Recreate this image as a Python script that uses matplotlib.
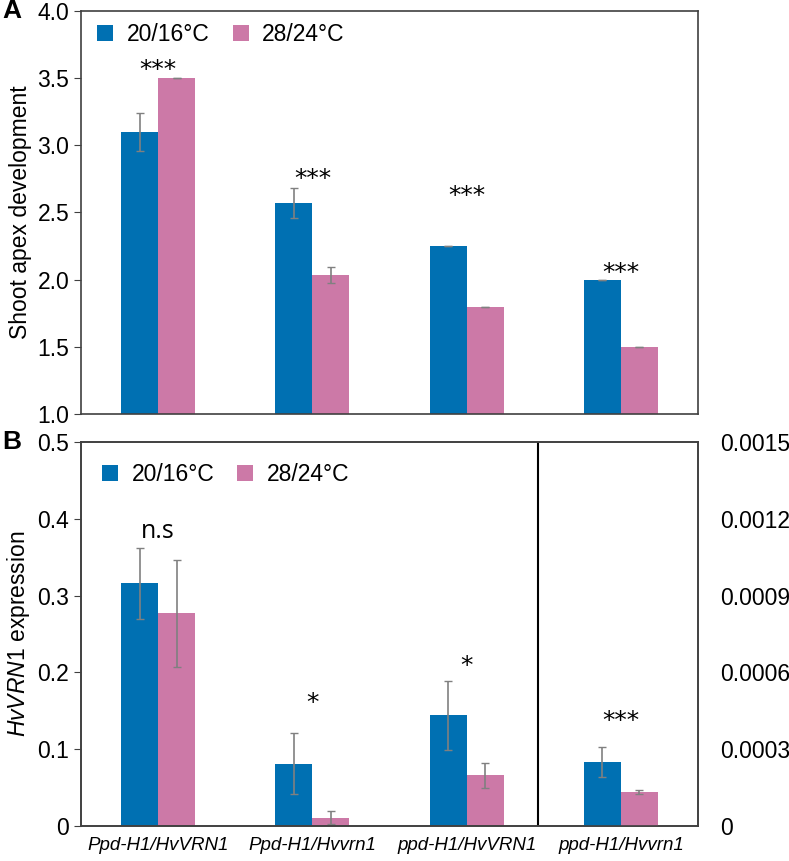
import numpy as np
import matplotlib
matplotlib.use("Agg")
import matplotlib.pyplot as plt
from matplotlib.ticker import FixedLocator, FuncFormatter

plt.rcParams['font.family'] = ['Liberation Sans', 'DejaVu Sans']
plt.rcParams['mathtext.fontset'] = 'custom'
plt.rcParams['mathtext.it'] = 'Liberation Sans:italic'
plt.rcParams['mathtext.rm'] = 'Liberation Sans'

# data
genotypes = ["Ppd-H1/HvVRN1", "Ppd-H1/Hvvrn1", "ppd-H1/HvVRN1", "ppd-H1/Hvvrn1"]
series = ["20/16°C", "28/24°C"]

apex_cool = [3.1, 2.57, 2.25, 2.0]
apex_cool_err = [0.14, 0.11, 0.0, 0.0]
apex_warm = [3.5, 2.035, 1.8, 1.5]
apex_warm_err = [0.0, 0.06, 0.0, 0.0]
apex_sig = ["***", "***", "***", "***"]

# first three genotypes on left axis, last one on right axis
vrn_cool = [0.316, 0.081, 0.144]
vrn_cool_err = [0.046, 0.040, 0.045]
vrn_warm = [0.277, 0.011, 0.066]
vrn_warm_err = [0.070, 0.009, 0.016]
vrn_cool_r = 0.00025
vrn_cool_r_err = 0.00006
vrn_warm_r = 0.000133
vrn_warm_r_err = 0.000008
vrn_sig = ["n.s", "*", "*", "***"]

blue = "#0070b2"
pink = "#cc79a7"
errc = "#808080"
spinec = "#404040"
w = 0.24
tick_fs = 16.5
star_font = ['DejaVu Sans']

fig = plt.figure(figsize=(7.89, 8.61), dpi=100)
axA = fig.add_axes([0.1027, 0.5192, 0.782, 0.468])
axB = fig.add_axes([0.1027, 0.0407, 0.782, 0.4459])

x = np.arange(len(genotypes))

# panel A
axA.bar(x - w / 2, apex_cool, w, color=blue, label=series[0])
axA.bar(x + w / 2, apex_warm, w, color=pink, label=series[1])
axA.errorbar(x - w / 2, apex_cool, yerr=apex_cool_err, fmt='none', ecolor=errc, capsize=3, elinewidth=1.2)
axA.errorbar(x + w / 2, apex_warm, yerr=apex_warm_err, fmt='none', ecolor=errc, capsize=3, elinewidth=1.2)
axA.set_ylim(1.0, 4.0)
axA.set_xlim(-0.5, 3.5)
axA.set_yticks(np.arange(1.0, 4.01, 0.5))
axA.yaxis.set_major_formatter(FuncFormatter(lambda v, p: "%.1f" % v))
axA.set_xticks([])
axA.set_ylabel("Shoot apex development", fontsize=16.5, labelpad=4)
sig_y_A = [3.56, 2.75, 2.62, 2.05]
for i in range(4):
    axA.text(x[i], sig_y_A[i], apex_sig[i], ha='center', va='center', fontsize=18, family=star_font)
axA.legend(loc='upper left', ncol=2, frameon=False, fontsize=16.5, handlelength=0.7,
           handleheight=0.7, handletextpad=0.6, columnspacing=1.0,
           bbox_to_anchor=(0.0, 1.01), borderaxespad=0.3)
axA.text(-0.128, 1.0, "A", transform=axA.transAxes, fontsize=19, fontweight='bold', va='center')

# panel B
xb = x[:3]
axB.bar(xb - w / 2, vrn_cool, w, color=blue, label=series[0])
axB.bar(xb + w / 2, vrn_warm, w, color=pink, label=series[1])
axB.errorbar(xb - w / 2, vrn_cool, yerr=vrn_cool_err, fmt='none', ecolor=errc, capsize=3, elinewidth=1.2)
axB.errorbar(xb + w / 2, vrn_warm, yerr=vrn_warm_err, fmt='none', ecolor=errc, capsize=3, elinewidth=1.2)
axB.set_ylim(0, 0.5)
axB.set_xlim(-0.5, 3.5)
axB.set_yticks(np.arange(0, 0.51, 0.1))
axB.yaxis.set_major_formatter(FuncFormatter(lambda v, p: "0" if v == 0 else "%.1f" % v))
axB.set_xticks(x)
axB.set_xticklabels(genotypes, fontsize=13.5, style='italic')
axB.tick_params(axis='x', length=0, pad=8)
axB.set_ylabel(r"$\it{HvVRN1}$ expression", fontsize=16.5, labelpad=4)
axB.axvline(2.46, color='black', lw=1.5)

axR = axB.twinx()
axR.bar(3 - w / 2, vrn_cool_r, w, color=blue)
axR.bar(3 + w / 2, vrn_warm_r, w, color=pink)
axR.errorbar(3 - w / 2, vrn_cool_r, yerr=vrn_cool_r_err, fmt='none', ecolor=errc, capsize=3, elinewidth=1.2)
axR.errorbar(3 + w / 2, vrn_warm_r, yerr=vrn_warm_r_err, fmt='none', ecolor=errc, capsize=3, elinewidth=1.2)
axR.set_ylim(0, 0.0015)
axR.yaxis.set_major_locator(FixedLocator([0, 0.0003, 0.0006, 0.0009, 0.0012, 0.0015]))
axR.yaxis.set_major_formatter(FuncFormatter(lambda v, p: "0" if v == 0 else "%.4f" % v))
axR.tick_params(axis='y', length=0, pad=16, labelsize=tick_fs)

sig_y_B = [0.383, 0.16, 0.208, 0.137]
for i in range(4):
    if vrn_sig[i] == "n.s":
        axB.text(x[i], sig_y_B[i], vrn_sig[i], ha='center', va='center', fontsize=18,
                 family=['Open Sans', 'DejaVu Sans'])
    else:
        axB.text(x[i], sig_y_B[i], vrn_sig[i], ha='center', va='center', fontsize=18, family=star_font)
axB.legend(loc='upper left', ncol=2, frameon=False, fontsize=16.5, handlelength=0.7,
           handleheight=0.7, handletextpad=0.6, columnspacing=1.0,
           bbox_to_anchor=(0.0, 1.0), borderaxespad=0.5)
axB.text(-0.128, 1.0, "B", transform=axB.transAxes, fontsize=19, fontweight='bold', va='center')

for ax in (axA, axB, axR):
    for s in ax.spines.values():
        s.set_color(spinec)
        s.set_linewidth(1.2)
for ax in (axA, axB):
    ax.tick_params(axis='y', labelsize=tick_fs, length=5, direction='out', color=spinec)

fig.savefig("out.png", dpi=100)
